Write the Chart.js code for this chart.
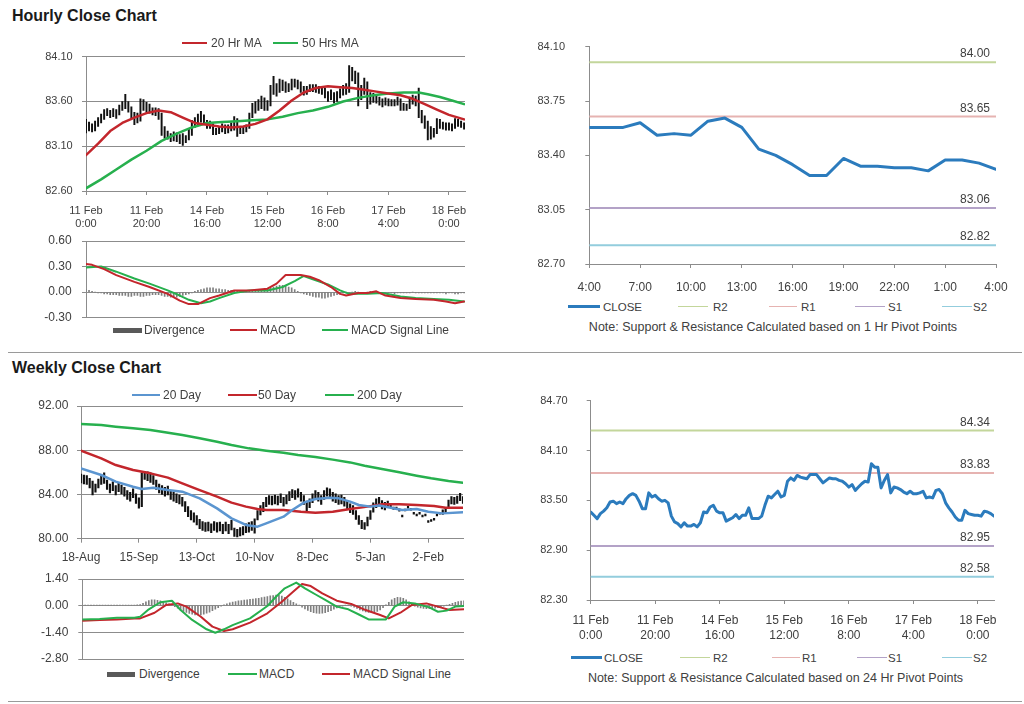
<!DOCTYPE html>
<html><head><meta charset="utf-8">
<script src="https://cdn.jsdelivr.net/npm/chart.js@4.4.1/dist/chart.umd.min.js"></script>
<style>
html,body{margin:0;padding:0;background:#fff;}
body{width:1024px;height:704px;position:relative;overflow:hidden;font-family:Arial,"Liberation Sans",sans-serif;color:#404040;}
canvas{position:absolute;}
.title{position:absolute;left:12px;font-weight:bold;font-size:16px;line-height:16px;color:#1a1a1a;white-space:nowrap;}
.sep{position:absolute;left:8px;width:1014px;height:0;border-top:1px solid #9a9a9a;}
.lg{position:absolute;line-height:14px;white-space:nowrap;color:#404040;}
.sw{position:absolute;}
.note{position:absolute;font-size:12.5px;line-height:14px;white-space:nowrap;color:#404040;transform:translateX(-50%);}
</style></head><body>
<div class="title" style="top:7.5px">Hourly Close Chart</div>
<div class="title" style="top:360px">Weekly Close Chart</div>
<div class="sep" style="top:352px"></div>
<div class="sep" style="top:701px"></div>
<canvas id="cA"></canvas><canvas id="cB"></canvas><canvas id="cC"></canvas>
<canvas id="cD"></canvas><canvas id="cE"></canvas><canvas id="cF"></canvas>
<div class="note" style="left:773px;top:319.7px">Note: Support &amp; Resistance Calculated based on 1 Hr Pivot Points</div>
<div class="note" style="left:775.5px;top:671.3px">Note: Support &amp; Resistance Calculated based on 24 Hr Pivot Points</div>
<script>
// ---------------- DATA ----------------
// Hourly bars (11 Feb 0:00 .. 18 Feb ~5:00), 126 bars
const hourlyTickIdx = [0, 20, 40, 60, 80, 100, 120];
const hourlyTickLabels = [['11 Feb','0:00'],['11 Feb','20:00'],['14 Feb','16:00'],['15 Feb','12:00'],['16 Feb','8:00'],['17 Feb','4:00'],['18 Feb','0:00']];
const hourlyClose = [
83.36,83.32,83.28,83.34,83.37,83.41,83.48,83.49,83.46,83.48,
83.46,83.52,83.56,83.58,83.56,83.49,83.40,83.40,83.59,83.54,
83.56,83.52,83.49,83.50,83.47,83.31,83.24,83.22,83.18,83.23,
83.19,83.19,83.21,83.18,83.23,83.36,83.35,83.42,83.44,83.37,
83.35,83.35,83.25,83.27,83.29,83.33,83.28,83.32,83.32,83.41,
83.28,83.28,83.28,83.31,83.44,83.55,83.53,83.57,83.61,83.54,
83.56,83.73,83.77,83.74,83.80,83.78,83.77,83.76,83.81,83.81,
83.81,83.76,83.71,83.74,83.77,83.76,83.76,83.74,83.73,83.70,
83.66,83.69,83.62,83.66,83.70,83.73,83.72,83.94,83.90,83.90,
83.65,83.74,83.81,83.59,83.66,83.65,83.63,83.60,83.58,83.61,
83.58,83.58,83.59,83.61,83.53,83.54,83.53,83.62,83.63,83.58,
83.47,83.41,83.36,83.30,83.26,83.26,83.38,83.34,83.33,83.32,
83.32,83.31,83.37,83.36,83.34,83.31];
const hourlyHigh = [
83.40,83.37,83.35,83.38,83.42,83.46,83.51,83.52,83.50,83.52,
83.51,83.56,83.60,83.68,83.60,83.54,83.48,83.47,83.63,83.62,
83.59,83.57,83.53,83.53,83.52,83.47,83.32,83.27,83.24,83.26,
83.25,83.23,83.24,83.22,83.30,83.39,83.42,83.46,83.49,83.45,
83.39,83.38,83.35,83.30,83.32,83.35,83.34,83.34,83.36,83.43,
83.41,83.31,83.31,83.34,83.47,83.58,83.60,83.62,83.66,83.64,
83.61,83.78,83.88,83.80,83.85,83.84,83.82,83.80,83.85,83.85,
83.84,83.82,83.77,83.77,83.79,83.79,83.79,83.77,83.76,83.75,
83.71,83.73,83.70,83.71,83.74,83.78,83.80,84.00,83.98,83.94,
83.92,83.78,83.86,83.82,83.70,83.69,83.68,83.65,83.63,83.64,
83.63,83.62,83.62,83.65,83.63,83.58,83.57,83.65,83.67,83.66,
83.75,83.50,83.44,83.38,83.32,83.30,83.41,83.40,83.37,83.36,
83.36,83.35,83.41,83.40,83.38,83.36];
const hourlyLow = [
83.25,83.27,83.26,83.27,83.32,83.36,83.40,83.44,83.42,83.43,
83.41,83.45,83.50,83.52,83.48,83.42,83.34,83.36,83.38,83.50,
83.48,83.47,83.45,83.44,83.40,83.22,83.19,83.18,83.15,83.16,
83.15,83.13,83.11,83.14,83.17,83.22,83.31,83.33,83.37,83.34,
83.30,83.30,83.23,83.23,83.24,83.26,83.24,83.25,83.27,83.28,
83.21,83.24,83.24,83.26,83.30,83.42,83.47,83.50,83.52,83.50,
83.50,83.55,83.68,83.66,83.70,83.72,83.70,83.71,83.73,83.76,
83.74,83.70,83.67,83.68,83.71,83.71,83.70,83.69,83.68,83.64,
83.60,83.62,83.58,83.60,83.64,83.67,83.68,83.70,83.83,83.80,
83.55,83.62,83.68,83.52,83.57,83.59,83.58,83.56,83.54,83.56,
83.55,83.55,83.55,83.56,83.50,83.50,83.50,83.52,83.57,83.55,
83.42,83.36,83.30,83.17,83.18,83.20,83.24,83.30,83.29,83.28,
83.28,83.27,83.30,83.32,83.31,83.29];
// moving averages read as [bar index, value]
const hourlyMA20 = [[0,83.00],[4,83.13],[8,83.27],[12,83.36],[16,83.42],[20,83.47],[24,83.50],[28,83.48],[32,83.42],[36,83.36],[40,83.34],[44,83.32],[48,83.31],[52,83.32],[56,83.35],[60,83.40],[64,83.50],[68,83.61],[72,83.70],[76,83.75],[80,83.77],[84,83.76],[88,83.75],[92,83.73],[96,83.71],[100,83.69],[104,83.67],[108,83.63],[112,83.57],[116,83.51],[120,83.45],[125,83.40]];
const hourlyMA50 = [[0,82.63],[5,82.73],[10,82.84],[15,82.95],[20,83.05],[25,83.16],[30,83.24],[35,83.31],[40,83.36],[45,83.37],[50,83.38],[55,83.39],[60,83.40],[65,83.43],[70,83.47],[75,83.50],[80,83.54],[85,83.60],[90,83.64],[95,83.67],[100,83.69],[105,83.70],[110,83.70],[113,83.68],[117,83.65],[121,83.61],[125,83.57]];
const hourlyYTicks = [82.60, 83.10, 83.60, 84.10];
// hourly MACD panel
const hourlyMACD = [[0,0.33],[2,0.32],[6,0.27],[10,0.20],[16,0.12],[21,0.06],[27,-0.02],[31,-0.10],[34,-0.14],[37,-0.14],[41,-0.07],[44,-0.04],[49,0.02],[54,0.02],[60,0.04],[63,0.10],[66,0.20],[71,0.20],[74,0.18],[77,0.14],[81,0.06],[84,-0.02],[86,-0.04],[90,-0.01],[93,-0.01],[96,0.01],[99,-0.04],[104,-0.07],[109,-0.08],[115,-0.09],[119,-0.11],[122,-0.13],[125,-0.11]];
const hourlySignal = [[0,0.29],[5,0.30],[10,0.24],[16,0.16],[21,0.10],[27,0.02],[31,-0.04],[34,-0.09],[38,-0.13],[41,-0.11],[44,-0.07],[49,-0.01],[54,0.02],[60,0.02],[65,0.06],[69,0.13],[72,0.19],[75,0.15],[80,0.09],[84,0.02],[87,-0.02],[93,-0.02],[98,-0.01],[104,-0.05],[109,-0.07],[115,-0.08],[120,-0.09],[125,-0.11]];
const hourlyDivergence = [
0.03,0.02,0.01,0.00,
-0.01,-0.01,-0.02,-0.02,-0.03,-0.03,-0.03,-0.04,-0.04,
-0.04,-0.05,-0.05,-0.04,-0.04,-0.05,-0.05,-0.04,-0.04,-0.03,
-0.03,-0.03,-0.04,-0.05,-0.05,-0.06,-0.06,-0.06,-0.05,-0.04,-0.03,-0.02,-0.01,
0.01,0.02,0.03,0.04,0.05,0.05,0.05,0.04,0.04,0.03,0.03,0.02,0.02,
0.01,0.01,0.01,0.00,0.00,0.01,0.01,0.02,0.02,0.03,0.03,0.04,
0.05,0.06,0.07,0.08,0.08,0.07,0.06,0.05,0.03,0.01,
-0.01,-0.02,-0.03,-0.04,-0.05,-0.06,-0.06,-0.07,-0.07,-0.06,-0.05,-0.04,-0.03,-0.02,-0.01,
0.00,-0.01,0.00,0.01,0.00,-0.01,-0.01,0.00,0.01,0.01,0.00,-0.01,-0.01,-0.01,-0.01,-0.01,-0.02,-0.01,-0.01,-0.01,
-0.01,-0.01,0.00,-0.01,-0.01,-0.01,-0.01,-0.01,-0.01,-0.01,-0.01,-0.01,-0.01,-0.02,-0.01,-0.01,-0.02,-0.02,-0.01,-0.01];
const hourlyMacdYTicks = [-0.30, 0.00, 0.30, 0.60];
// 1 Hr pivot chart (last 25 hours)
const pivotHourLabels = ['4:00','7:00','10:00','13:00','16:00','19:00','22:00','1:00','4:00'];
const pivotHourTickIdx = [0,3,6,9,12,15,18,21,24];
const pivotHourClose = [83.58,83.58,83.58,83.61,83.53,83.54,83.53,83.62,83.64,83.58,83.44,83.40,83.34,83.27,83.27,83.38,83.33,83.33,83.32,83.32,83.30,83.37,83.37,83.35,83.31];
const levelNames = ['R2','R1','S1','S2'];
const pivot1hLevels = [84.00, 83.65, 83.06, 82.82];
const pivot1hYTicks = [82.70, 83.05, 83.40, 83.75, 84.10];
// 24 Hr pivot chart
const pivot24hLevels = [84.34, 83.83, 82.95, 82.58];
const pivot24hYTicks = [82.30, 82.90, 83.50, 84.10, 84.70];

// Daily bars (18-Aug .. Feb), 133 bars
const dailyTickIdx = [0, 20, 40, 60, 80, 100, 120];
const dailyTickLabels = ['18-Aug','15-Sep','13-Oct','10-Nov','8-Dec','5-Jan','2-Feb'];
const dailyLow = [
85.05,84.95,84.90,84.60,83.95,84.20,84.60,84.90,85.00,84.45,
84.15,84.35,83.95,84.25,84.05,83.85,83.55,83.40,83.70,83.20,
82.75,82.90,85.35,85.25,85.10,84.90,84.45,84.15,84.00,83.85,
83.95,83.55,83.40,83.25,83.15,82.95,82.45,82.00,81.70,81.50,
81.25,80.90,80.75,80.65,80.70,80.55,80.75,80.60,80.70,80.45,
80.70,80.45,80.80,80.20,80.15,80.25,80.35,80.55,80.60,80.75,
80.50,81.70,82.15,82.45,82.90,83.10,83.05,83.15,83.05,83.25,
82.95,83.15,83.45,83.70,83.55,83.75,83.40,83.10,82.45,82.80,
83.25,83.55,83.40,83.10,83.55,83.85,83.70,83.40,83.25,83.10,
83.15,82.95,82.65,82.35,82.20,81.75,81.30,80.90,80.85,81.15,
81.75,82.40,82.80,82.95,82.70,82.60,82.85,82.80,82.65,82.65,
82.50,81.98,82.52,82.76,82.58,82.22,82.07,82.22,81.98,82.07,
81.47,81.56,81.68,82.07,82.22,82.20,82.30,82.80,83.15,83.10,
83.20,83.45,83.20];
const dailyHigh = [
85.85,85.75,85.70,85.45,85.20,84.95,85.40,85.70,85.95,85.30,
84.95,85.15,84.80,85.05,84.85,84.65,84.35,84.20,84.50,84.05,
83.70,85.95,86.10,86.05,85.95,85.70,85.30,84.95,84.80,84.65,
84.75,84.35,84.20,84.05,83.95,83.75,83.35,82.90,82.55,82.35,
82.10,81.75,81.55,81.45,81.50,81.35,81.55,81.45,81.50,81.30,
81.50,81.30,81.65,80.95,80.85,81.00,81.10,81.35,81.45,81.55,
81.80,82.55,83.00,83.30,83.75,83.90,83.85,83.95,83.85,84.05,
83.75,83.95,84.25,84.45,84.35,84.50,84.20,83.90,83.40,83.60,
84.05,84.35,84.20,83.90,84.35,84.60,84.50,84.20,84.05,83.90,
83.95,83.75,83.45,83.15,83.00,82.55,82.10,81.65,81.45,81.95,
82.55,83.25,83.60,83.75,83.45,83.30,83.40,83.10,82.85,82.85,
82.70,82.14,82.68,82.92,82.74,82.38,82.23,82.38,82.14,82.23,
81.63,81.72,81.84,82.23,82.38,82.60,82.80,83.50,83.80,83.75,
83.85,84.10,83.80];
const dailyMA20 = [[0,86.36],[7,85.76],[12,85.16],[18,84.70],[21,84.49],[25,84.61],[30,84.40],[35,84.25],[41,83.65],[47,82.74],[52,81.84],[57,81.24],[61,81.09],[64,81.39],[70,81.99],[73,82.59],[77,83.26],[81,83.59],[86,83.71],[89,83.65],[93,83.35],[96,83.05],[100,82.90],[103,83.00],[107,82.80],[111,82.59],[116,82.68],[120,82.44],[125,82.29],[132,82.40]];
const dailyMA50 = [[0,87.96],[7,87.27],[12,86.66],[18,86.21],[24,85.91],[30,85.52],[35,85.01],[41,84.40],[47,83.80],[52,83.26],[57,82.90],[61,82.68],[64,82.59],[70,82.59],[76,82.44],[81,82.35],[87,82.44],[93,82.68],[99,82.90],[104,83.11],[110,83.11],[116,83.05],[122,82.96],[126,82.80],[132,82.80]];
const dailyMA200 = [[0,90.37],[7,90.28],[12,90.13],[18,89.98],[24,89.83],[29,89.62],[35,89.38],[41,89.08],[47,88.77],[52,88.47],[58,88.17],[64,87.96],[70,87.78],[75,87.57],[81,87.38],[87,87.15],[93,86.90],[98,86.60],[104,86.30],[110,86.00],[116,85.70],[121,85.46],[127,85.22],[132,85.07]];
const dailyYTicks = [80, 84, 88, 92];
const dailyMACD = [[0,-0.72],[6,-0.70],[12,-0.63],[18,-0.63],[20,-0.58],[23,-0.19],[27,0.18],[31,0.26],[34,-0.23],[38,-0.75],[43,-1.24],[46,-1.42],[49,-1.24],[52,-1.02],[58,-0.67],[64,-0.02],[67,0.47],[70,0.91],[74,1.21],[77,0.91],[81,0.56],[84,0.30],[88,-0.05],[92,-0.19],[96,-0.49],[99,-0.72],[105,-0.72],[108,-0.05],[111,0.18],[115,0.12],[120,-0.09],[123,-0.32],[126,-0.26],[129,-0.05],[132,-0.02]];
const dailySignal = [[0,-0.79],[6,-0.75],[12,-0.72],[18,-0.67],[20,-0.67],[25,-0.37],[29,0.04],[33,0.12],[36,-0.05],[41,-0.58],[45,-1.10],[49,-1.33],[52,-1.24],[58,-0.89],[64,-0.40],[69,0.21],[73,0.74],[76,1.14],[79,1.03],[83,0.65],[88,0.26],[93,0.09],[98,-0.23],[103,-0.49],[106,-0.67],[110,-0.37],[114,0.04],[119,0.12],[123,-0.05],[127,-0.23],[132,-0.19]];
const dailyDivergence = [
0.02,0.01,0.03,0.01,0.02,0.03,0.01,0.02,0.03,0.01,0.02,0.03,0.01,0.02,0.03,0.02,0.03,0.02,0.03,0.04,0.06,
0.12,0.20,0.27,0.30,0.30,0.28,0.25,0.20,0.15,0.10,0.04,
-0.05,-0.13,-0.22,-0.30,-0.36,-0.41,-0.45,-0.48,-0.49,-0.48,-0.45,-0.40,-0.34,-0.26,-0.18,-0.10,-0.03,
0.04,0.10,0.15,0.19,0.22,0.25,0.27,0.29,0.31,0.33,0.35,0.37,0.39,0.42,0.45,0.48,0.51,0.53,0.55,0.54,0.50,0.44,0.36,0.27,0.18,0.09,0.02,
-0.08,-0.17,-0.25,-0.32,-0.37,-0.40,-0.41,-0.40,-0.37,-0.32,-0.26,-0.19,-0.12,
-0.06,-0.02,0.02,0.03,-0.02,-0.08,-0.15,-0.22,-0.28,-0.33,-0.36,-0.37,-0.35,-0.30,-0.22,-0.10,
0.05,0.18,0.30,0.39,0.44,0.43,0.38,0.30,0.20,0.09,
-0.02,-0.08,-0.12,-0.15,-0.16,-0.16,-0.15,-0.13,-0.10,-0.07,-0.03,0.02,
0.07,0.12,0.17,0.21,0.24,0.26];
const dailyMacdYTicks = [-2.80, -1.40, 0.00, 1.40];

// ---------------- STYLE ----------------
const GRID = '#8c8c8c';
const TXT = '#404040';
const COL = {red:'#c3262c', green:'#27b04e', blue:'#5b95d0', close:'#2b7bbd', div:'#7f7f7f', divKey:'#595959',
  levels:['#c3d69b','#e6b3b1','#b3a2c7','#93cddd']};
Chart.defaults.font.family = 'Arial, "Liberation Sans", sans-serif';
Chart.defaults.color = TXT;

const pts = arr => arr.map(([x, y]) => ({x, y}));
const seq = arr => arr.map((y, x) => ({x, y}));

const levelLabelPlugin = {
  id: 'levelLabels',
  afterDatasetsDraw(chart, args, opts) {
    const ctx = chart.ctx; ctx.save();
    ctx.font = '12px Arial, "Liberation Sans", sans-serif';
    ctx.fillStyle = TXT; ctx.textAlign = 'right'; ctx.textBaseline = 'alphabetic';
    chart.data.datasets.forEach((ds, i) => {
      if (ds.levelLabel === undefined) return;
      const meta = chart.getDatasetMeta(i);
      const p = meta.data[meta.data.length - 1];
      ctx.fillText(ds.levelLabel, chart.chartArea.right - opts.inset, p.y - opts.gap);
    });
    ctx.restore();
  }
};

function lineDs(label, data, color, width, order) {
  return {type:'line', label, data, borderColor:color, backgroundColor:color, borderWidth:width,
    pointRadius:0, pointHoverRadius:0, tension:0, fill:false, order, borderJoinStyle:'round', borderCapStyle:'round'};
}

function makeChart(id, box, plot, datasets, xOpt, yOpt, extra) {
  const cv = document.getElementById(id);
  cv.width = box.w; cv.height = box.h;
  cv.style.left = box.x + 'px'; cv.style.top = box.y + 'px';
  cv.style.width = box.w + 'px'; cv.style.height = box.h + 'px';
  const bottomH = box.y + box.h - plot.b;
  const xShown = xOpt.display !== false;
  const x = Object.assign({type:'linear', offset:false, bounds:'data'}, xOpt);
  x.grid = Object.assign({offset:false, drawOnChartArea:false, drawTicks:true, tickLength:4, color:GRID}, xOpt.grid || {});
  x.border = {display:true, color:GRID};
  if (xShown) x.afterFit = s => { s.height = bottomH; s.paddingLeft = 0; s.paddingRight = 0; s.paddingTop = 0; s.paddingBottom = 0; };
  const y = Object.assign({}, yOpt);
  y.afterFit = s => { s.width = plot.l - box.x; s.paddingTop = 0; s.paddingBottom = 0; s.paddingLeft = 0; s.paddingRight = 0; };
  y.border = {display:true, color:GRID};
  return new Chart(cv, {
    type:'bar',
    data:{datasets},
    options:Object.assign({
      responsive:false, devicePixelRatio:1, animation:false, events:[],
      layout:{autoPadding:false, padding:{left:0, top:plot.t - box.y, right:box.x + box.w - plot.r, bottom: xShown ? 0 : bottomH}},
      plugins:{legend:{display:false}, tooltip:{enabled:false}},
      scales:{x, y}
    }, extra || {}),
    plugins:[levelLabelPlugin]
  });
}

function fixedTicks(vals) { return s => { s.ticks = vals.map(v => ({value:v})); }; }

// Chart A: hourly price
makeChart('cA', {x:0, y:40, w:480, h:200}, {l:86, t:56.7, r:465, b:191}, [
  lineDs('20 Hr MA', pts(hourlyMA20), COL.red, 2.5, 1),
  lineDs('50 Hrs MA', pts(hourlyMA50), COL.green, 2.5, 1),
  {type:'bar', label:'Hourly', data: hourlyLow.map((l, i) => ({x:i, y:[l, hourlyHigh[i]]})), backgroundColor:'#111', borderWidth:0, barThickness:1.3, order:2}
], {min:0, max:125.3, afterBuildTicks: fixedTicks(hourlyTickIdx),
    ticks:{autoSkip:false, maxRotation:0, font:{size:11}, padding:9, color:TXT, callback:(v, i) => hourlyTickLabels[i]}},
   {min:82.6, max:84.1, afterBuildTicks: fixedTicks(hourlyYTicks),
    ticks:{font:{size:11}, padding:9.3, color:TXT, callback:v => v.toFixed(2)},
    grid:{color:GRID, drawTicks:true, tickLength:4}});

// Chart B: hourly MACD
makeChart('cB', {x:0, y:230, w:480, h:95}, {l:86, t:241, r:465, b:317.7}, [
  lineDs('MACD', pts(hourlyMACD), COL.red, 2, 1),
  lineDs('MACD Signal Line', pts(hourlySignal), COL.green, 2, 1),
  {type:'bar', label:'Divergence', data: seq(hourlyDivergence), backgroundColor:COL.div, borderWidth:0, barThickness:1, order:2}
], {display:false, min:0, max:125.3},
   {min:-0.3, max:0.6, afterBuildTicks: fixedTicks(hourlyMacdYTicks),
    ticks:{font:{size:12}, padding:10.3, color:TXT, callback:v => v.toFixed(2)},
    grid:{color:GRID, drawTicks:true, tickLength:4}});

function pivotDatasets(closeData, levels, maxX) {
  const ds = [lineDs('CLOSE', seq(closeData), COL.close, 3, 0)];
  levels.forEach((lv, k) => {
    const d = lineDs(levelNames[k], [{x:0, y:lv}, {x:maxX, y:lv}], COL.levels[k], 2, 1);
    d.levelLabel = lv.toFixed(2);
    ds.push(d);
  });
  return ds;
}

// Chart C: 1 Hr pivots
makeChart('cC', {x:500, y:35, w:524, h:260}, {l:589.3, t:46.7, r:996, b:264},
  pivotDatasets(pivotHourClose, pivot1hLevels, pivotHourClose.length - 1),
  {min:0, max:pivotHourClose.length - 1, afterBuildTicks: fixedTicks(pivotHourTickIdx),
   ticks:{autoSkip:false, maxRotation:0, font:{size:12}, padding:12, color:TXT, callback:(v, i) => pivotHourLabels[i]}},
  {min:82.7, max:84.1, afterBuildTicks: fixedTicks(pivot1hYTicks),
   ticks:{font:{size:11}, padding:20.3, color:TXT, callback:v => v.toFixed(2)},
   grid:{color:GRID, drawOnChartArea:false, drawTicks:true, tickLength:4}},
  {plugins:{legend:{display:false}, tooltip:{enabled:false}, levelLabels:{inset:6, gap:5}}});

// Chart D: daily price
makeChart('cD', {x:0, y:396, w:480, h:172}, {l:81, t:406, r:463, b:538.7}, [
  lineDs('20 Day', pts(dailyMA20), COL.blue, 2.5, 1),
  lineDs('50 Day', pts(dailyMA50), COL.red, 2.5, 1),
  lineDs('200 Day', pts(dailyMA200), COL.green, 2.5, 1),
  {type:'bar', label:'Daily', data: dailyLow.map((l, i) => ({x:i, y:[l, dailyHigh[i]]})), backgroundColor:'#111', borderWidth:0, barThickness:1.5, order:2}
], {min:0, max:132, afterBuildTicks: fixedTicks(dailyTickIdx),
    ticks:{autoSkip:false, maxRotation:0, font:{size:12}, padding:7.4, color:TXT, callback:(v, i) => dailyTickLabels[i]}},
   {min:80, max:92, afterBuildTicks: fixedTicks(dailyYTicks),
    ticks:{font:{size:12}, padding:8.7, color:TXT, callback:v => v.toFixed(2)},
    grid:{color:GRID, drawTicks:true, tickLength:4}});

// Chart E: daily MACD
makeChart('cE', {x:0, y:570, w:480, h:95}, {l:82.3, t:579, r:464, b:659}, [
  lineDs('MACD', pts(dailyMACD), COL.green, 2, 1),
  lineDs('MACD Signal Line', pts(dailySignal), COL.red, 2, 1),
  {type:'bar', label:'Divergence', data: seq(dailyDivergence), backgroundColor:COL.div, borderWidth:0, barThickness:1, order:2}
], {display:false, min:0, max:132},
   {min:-2.8, max:1.4, afterBuildTicks: fixedTicks(dailyMacdYTicks),
    ticks:{font:{size:12}, padding:10, color:TXT, callback:v => v.toFixed(2)},
    grid:{color:GRID, drawTicks:true, tickLength:4}});

// Chart F: 24 Hr pivots (hourly close)
makeChart('cF', {x:500, y:390, w:524, h:258}, {l:590.7, t:400.7, r:994, b:600},
  pivotDatasets(hourlyClose, pivot24hLevels, hourlyClose.length - 1),
  {min:0, max:hourlyClose.length - 1, afterBuildTicks: fixedTicks(hourlyTickIdx),
   ticks:{autoSkip:false, maxRotation:0, font:{size:12, lineHeight:1.28}, padding:9, color:TXT, callback:(v, i) => hourlyTickLabels[i]}},
  {min:82.3, max:84.7, afterBuildTicks: fixedTicks(pivot24hYTicks),
   ticks:{font:{size:11}, padding:19, color:TXT, callback:v => v.toFixed(2)},
   grid:{color:GRID, drawOnChartArea:false, drawTicks:true, tickLength:4}},
  {plugins:{legend:{display:false}, tooltip:{enabled:false}, levelLabels:{inset:4, gap:5}}});

// ---------------- LEGENDS (HTML) ----------------
function addLegend(yc, size, items) {
  items.forEach(it => {
    const sw = document.createElement('div'); sw.className = 'sw';
    const h = it.box ? 5 : it.h;
    sw.style.left = it.sx + 'px'; sw.style.width = it.sw + 'px'; sw.style.height = h + 'px';
    sw.style.top = (yc - h / 2) + 'px'; sw.style.background = it.color;
    document.body.appendChild(sw);
    const t = document.createElement('div'); t.className = 'lg';
    t.textContent = it.text; t.style.left = it.tx + 'px'; t.style.top = (yc - 7) + 'px'; t.style.fontSize = size + 'px';
    document.body.appendChild(t);
  });
}
addLegend(42.7, 12, [
  {sx:182, sw:25, h:2, color:COL.red, text:'20 Hr MA', tx:211},
  {sx:273, sw:25, h:2, color:COL.green, text:'50 Hrs MA', tx:302}]);
addLegend(330, 12, [
  {sx:113, sw:29, box:true, color:COL.divKey, text:'Divergence', tx:144},
  {sx:230, sw:27, h:2, color:COL.red, text:'MACD', tx:260},
  {sx:322, sw:26, h:2, color:COL.green, text:'MACD Signal Line', tx:351}]);
addLegend(395, 12, [
  {sx:132, sw:28, h:2, color:COL.blue, text:'20 Day', tx:163},
  {sx:228, sw:29, h:2, color:COL.red, text:'50 Day', tx:258},
  {sx:325, sw:29, h:2, color:COL.green, text:'200 Day', tx:357}]);
addLegend(674, 12, [
  {sx:107, sw:28, box:true, color:COL.divKey, text:'Divergence', tx:139},
  {sx:228, sw:29, h:2, color:COL.green, text:'MACD', tx:259},
  {sx:322, sw:28, h:2, color:COL.red, text:'MACD Signal Line', tx:353}]);
function pivotLegend(yc, pos) {
  const items = [{sx:pos[0][0], sw:pos[0][1], h:2.5, color:COL.close, text:'CLOSE', tx:pos[0][2]}];
  levelNames.forEach((n, k) => items.push({sx:pos[k+1][0], sw:pos[k+1][1], h:1.5, color:COL.levels[k], text:n, tx:pos[k+1][2]}));
  addLegend(yc, 11.5, items);
}
pivotLegend(306.7, [[568,32,603],[678,30,713],[769,28,801],[855,30,888],[942,30,973]]);
pivotLegend(657.7, [[571,31,604],[680,30,713],[772,28,802],[857,30,888],[942,30,973]]);
</script>
</body></html>
